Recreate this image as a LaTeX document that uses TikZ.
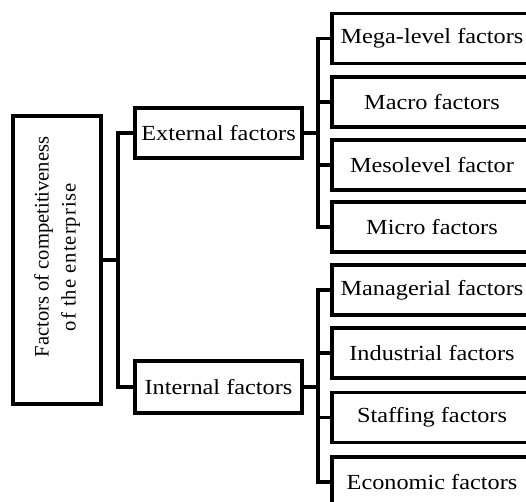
\documentclass[tikz,border=0pt]{standalone}
\usepackage{fontspec}
\setmainfont{Liberation Serif}[FakeStretch=1.13]
\newfontfamily\rootfont{Liberation Serif}
\newfontfamily\rootwidefont{Liberation Serif}[LetterSpace=5]
\usetikzlibrary{positioning}

\begin{document}
\begin{tikzpicture}[x=1pt,y=-1pt,
  factor/.style={draw,line width=3.5pt,inner sep=2pt,minimum height=50pt,font=\fontsize{21.5}{23}\selectfont},
  link/.style={line width=3.5pt,line cap=rect}]
  \useasboundingbox (0,0) rectangle (526,501);
  \clip (0,0) rectangle (526,501);

  \node[factor,rotate=90,align=center,minimum width=288pt,minimum height=88pt,font=\rootfont\fontsize{20.6}{27}\selectfont] (root) at (57,260) {\hspace*{26pt}Factors of competitiveness\\\hspace*{6pt}{\rootwidefont of the enterprise}};

  \node[factor,minimum width=167pt] (ext) at (218.5,133) {External factors};
  \node[factor,minimum width=167pt,minimum height=52pt] (int) at (218.5,387) {Internal factors};

  \node[factor,minimum width=200pt] (mega) at (432,38.5) {Mega-level factors};
  \node[factor,minimum width=200pt] (macro) at (432,102) {Macro factors};
  \node[factor,minimum width=200pt] (meso) at (432,165) {Mesolevel factor};
  \node[factor,minimum width=200pt] (micro) at (432,227) {Micro factors};
  \node[factor,minimum width=200pt] (manag) at (432,290) {Managerial factors};
  \node[factor,minimum width=200pt] (indus) at (432,353) {Industrial factors};
  \node[factor,minimum width=200pt] (staff) at (432,417.5) {Staffing factors};
  \node[factor,minimum width=200pt] (econ) at (432,482) {Economic factors};

  \coordinate (rootbus) at (118,260);
  \coordinate (extbus) at (318,133);
  \coordinate (intbus) at (318,387);

  \draw[link] (root.south) -- (rootbus);
  \draw[link] (ext.west) -| (rootbus) |- (int.west);

  \draw[link] (ext.east) -- (extbus);
  \foreach \n in {mega,macro,meso,micro}
    \draw[link] (extbus) |- (\n.west);

  \draw[link] (int.east) -- (intbus);
  \foreach \n in {manag,indus,staff,econ}
    \draw[link] (intbus) |- (\n.west);

\end{tikzpicture}
\end{document}
